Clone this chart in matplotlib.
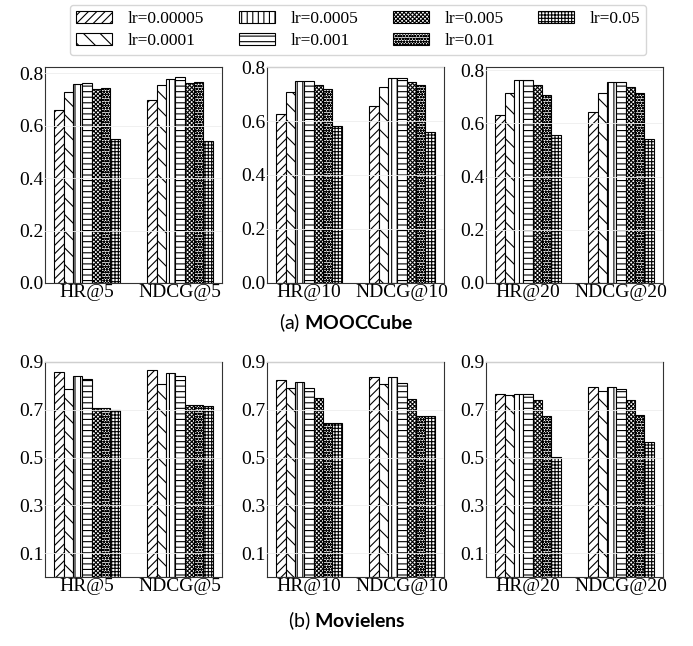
import numpy as np
import matplotlib
matplotlib.use('Agg')
import matplotlib.pyplot as plt
from matplotlib.patches import Patch

plt.rcParams['font.family'] = ['Liberation Serif', 'DejaVu Serif']
plt.rcParams['hatch.linewidth'] = 0.8
plt.rcParams['mathtext.fontset'] = 'custom'
plt.rcParams['mathtext.rm'] = 'Lato'
plt.rcParams['mathtext.bf'] = 'Lato:bold'

lrs = ['lr=0.00005', 'lr=0.0001', 'lr=0.0005', 'lr=0.001', 'lr=0.005', 'lr=0.01', 'lr=0.05']
hatches = ['////', '\\\\', '|||', '---', 'xxxxxxxx', 'oooooo', '+++++']

# MOOCCube: HR and NDCG for each lr, per cutoff
mooc_k5_hr = [0.659, 0.728, 0.758, 0.763, 0.738, 0.742, 0.547]
mooc_k5_ndcg = [0.696, 0.755, 0.778, 0.783, 0.762, 0.764, 0.541]
mooc_k10_hr = [0.625, 0.706, 0.749, 0.747, 0.733, 0.718, 0.580]
mooc_k10_ndcg = [0.656, 0.727, 0.761, 0.759, 0.744, 0.735, 0.561]
mooc_k20_hr = [0.632, 0.714, 0.765, 0.765, 0.743, 0.708, 0.558]
mooc_k20_ndcg = [0.645, 0.714, 0.755, 0.755, 0.736, 0.714, 0.540]

# Movielens
ml_k5_hr = [0.858, 0.785, 0.840, 0.827, 0.706, 0.706, 0.701]
ml_k5_ndcg = [0.865, 0.809, 0.854, 0.840, 0.720, 0.720, 0.717]
ml_k10_hr = [0.823, 0.792, 0.818, 0.792, 0.751, 0.646, 0.646]
ml_k10_ndcg = [0.836, 0.806, 0.836, 0.812, 0.745, 0.673, 0.673]
ml_k20_hr = [0.764, 0.760, 0.768, 0.767, 0.739, 0.672, 0.504]
ml_k20_ndcg = [0.794, 0.777, 0.794, 0.788, 0.739, 0.679, 0.564]

cutoffs = ['5', '10', '20']
mooc = [(mooc_k5_hr, mooc_k5_ndcg), (mooc_k10_hr, mooc_k10_ndcg), (mooc_k20_hr, mooc_k20_ndcg)]
ml = [(ml_k5_hr, ml_k5_ndcg), (ml_k10_hr, ml_k10_ndcg), (ml_k20_hr, ml_k20_ndcg)]

mooc_ylim = [0.823, 0.80, 0.8125]


def draw_panel(ax, hr, ndcg, k, ylim, yticks):
    width = 0.1
    x = np.array([0, 1])
    for i in range(len(lrs)):
        off = (i - 3) * width
        ax.bar(x + off, [hr[i], ndcg[i]], width, color='white', edgecolor='black',
               hatch=hatches[i], linewidth=0.8, label=lrs[i], zorder=2)
    ax.set_xlim(-0.45, 1.45)
    ax.set_ylim(0, ylim)
    ax.set_yticks(yticks)
    ax.set_xticks(x)
    ax.set_xticklabels([f'HR@{k}', f'NDCG@{k}'])
    ax.tick_params(labelsize=14, length=0, pad=1)
    for y in yticks:
        ax.axhline(y, color='#eeeeee', linewidth=0.6, zorder=3)
    for s in ax.spines.values():
        s.set_color('#333333')


fig = plt.figure(figsize=(6.93, 6.46), dpi=100)
W, H = 693, 646
lefts = [45, 267, 486]
pw = 177

for j in range(3):
    ax = fig.add_axes([lefts[j] / W, 1 - 283 / H, pw / W, (283 - 67) / H])
    hr, ndcg = mooc[j]
    draw_panel(ax, hr, ndcg, cutoffs[j], mooc_ylim[j], [0.0, 0.2, 0.4, 0.6, 0.8])

for j in range(3):
    ax = fig.add_axes([lefts[j] / W, 1 - 577 / H, pw / W, (577 - 362) / H])
    hr, ndcg = ml[j]
    draw_panel(ax, hr, ndcg, cutoffs[j], 0.9, [0.1, 0.3, 0.5, 0.7, 0.9])

handles = [Patch(facecolor='white', edgecolor='black', hatch=hatches[i], linewidth=0.8, label=lrs[i])
           for i in range(len(lrs))]
fig.legend(handles=handles, ncol=4, loc='center', bbox_to_anchor=(358 / W, 1 - 30 / H),
           fontsize=12.5, frameon=True, fancybox=True, edgecolor='#cccccc',
           handlelength=2.1, handleheight=0.7, columnspacing=2.0, labelspacing=0.35,
           borderpad=0.35, handletextpad=0.87)

fig.text(0.5, 1 - 323 / H, r'$\mathrm{(a)}$ $\mathbf{MOOCCube}$', ha='center', va='center',
         fontsize=14, family='Lato')
fig.text(0.5, 1 - 621 / H, r'$\mathrm{(b)}$ $\mathbf{Movielens}$', ha='center', va='center',
         fontsize=14, family='Lato')

fig.savefig('out.png', dpi=100)
